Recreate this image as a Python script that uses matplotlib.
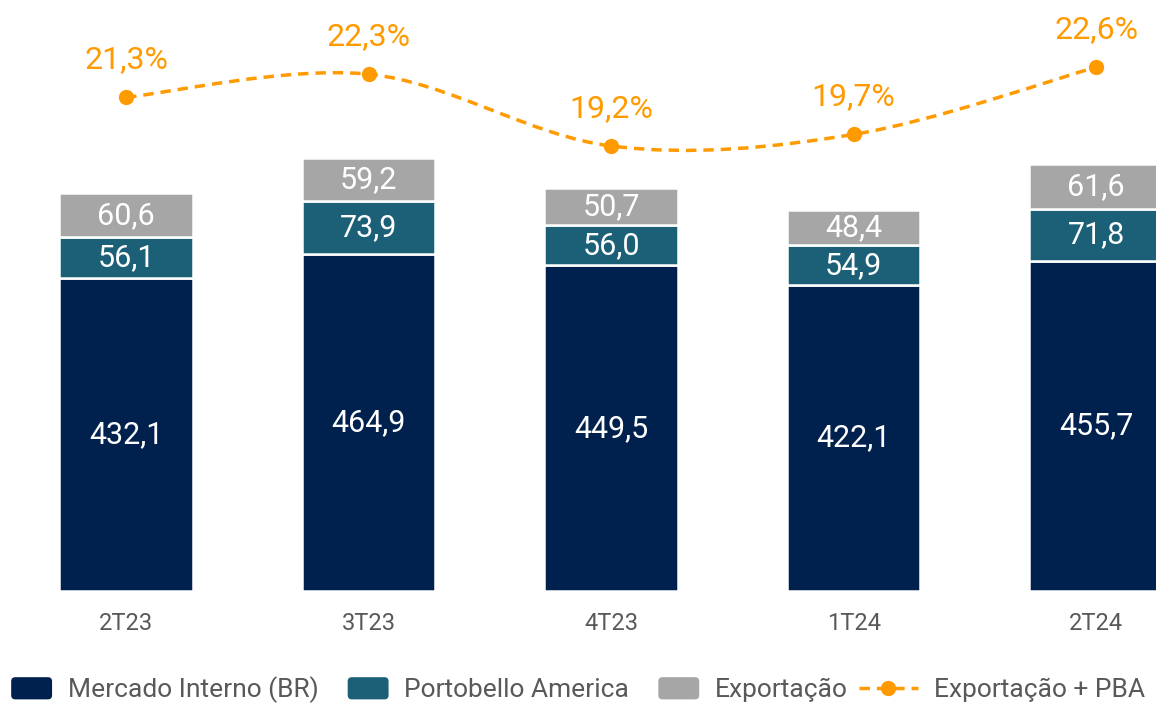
import matplotlib.pyplot as plt
import numpy as np
from matplotlib.path import Path
from matplotlib.patches import PathPatch, Patch, FancyBboxPatch
from matplotlib.lines import Line2D
from matplotlib.legend_handler import HandlerPatch, HandlerLine2D

plt.rcParams['font.family'] = ['Roboto', 'DejaVu Sans']

trimestres = ['2T23', '3T23', '4T23', '1T24', '2T24']
mercado_interno = [432.1, 464.9, 449.5, 422.1, 455.7]
portobello_america = [56.1, 73.9, 56.0, 54.9, 71.8]
exportacao = [60.6, 59.2, 50.7, 48.4, 61.6]
exp_pba = [21.3, 22.3, 19.2, 19.7, 22.6]

azul = '#00214E'
teal = '#1C6078'
cinza = '#A6A6A6'
laranja = '#FF9A00'
texto = '#595959'

def fmt(v, suf=''):
    return f'{v:.1f}'.replace('.', ',') + suf

fig = plt.figure(figsize=(11.56, 7.06), dpi=100)
ax = fig.add_axes([0, 0.163, 1, 0.837])
x = np.arange(len(trimestres))
w = 0.55

base = np.zeros(len(x))
for serie, cor in [(mercado_interno, azul), (portobello_america, teal), (exportacao, cinza)]:
    vals = np.array(serie)
    ax.bar(x, vals, w, bottom=base, color=cor, edgecolor='white', linewidth=1.8)
    for xi, b, v in zip(x, base, vals):
        ax.text(xi, b + v / 2, fmt(v), ha='center', va='center', color='white', fontsize=22)
    base = base + vals

ax.set_xlim(-0.52, 4.247)
ax.set_ylim(0, 816)
ax.set_xticks(x)
ax.set_xticklabels(trimestres, fontsize=17, color=texto)
ax.tick_params(axis='x', length=0, pad=15)
ax.set_yticks([])
for s in ax.spines.values():
    s.set_visible(False)

# linha suavizada (estilo Excel) no eixo secundario
ax2 = ax.twinx()
ax2.set_ylim(0, 25.5)
ax2.set_yticks([])
for s in ax2.spines.values():
    s.set_visible(False)

pts = np.column_stack([x, exp_pba]).astype(float)
verts = [pts[0]]
codes = [Path.MOVETO]
n = len(pts)
for i in range(n - 1):
    p0 = pts[i - 1] if i > 0 else pts[i]
    p1 = pts[i]
    p2 = pts[i + 1]
    p3 = pts[i + 2] if i + 2 < n else pts[i + 1]
    c1 = p1 + (p2 - p0) / 6
    c2 = p2 - (p3 - p1) / 6
    verts += [c1, c2, p2]
    codes += [Path.CURVE4] * 3
curva = PathPatch(Path(verts, codes), facecolor='none', edgecolor=laranja,
                  linewidth=2.5, linestyle=(0, (3, 2)))
ax2.add_patch(curva)
ax2.plot(x, exp_pba, 'o', color=laranja, markersize=10, linestyle='none')
for xi, v in zip(x, exp_pba):
    ax2.annotate(fmt(v, '%'), (xi, v), textcoords='offset points', xytext=(0, 27),
                 ha='center', va='center', color=laranja, fontsize=23)


def caixa(legend, orig_handle, xdescent, ydescent, width, height, fontsize):
    return FancyBboxPatch((-xdescent, -ydescent - height * 0.05), width, height * 1.1,
                          boxstyle='round,pad=0,rounding_size=3')


class LinhaLonga(HandlerLine2D):
    # linha da legenda um pouco mais longa, para a esquerda
    def create_artists(self, legend, orig_handle, xdescent, ydescent, width, height, fontsize, trans):
        ext = width * 0.45
        return super().create_artists(legend, orig_handle, xdescent + ext, ydescent,
                                      width + ext, height, fontsize, trans)


handles = [
    Patch(facecolor=azul, label='Mercado Interno (BR)'),
    Patch(facecolor=teal, label='Portobello America'),
    Patch(facecolor=cinza, label='Exportação'),
    Line2D([], [], color=laranja, linestyle=(0, (3, 2)), linewidth=2.5, marker='o',
           markersize=10, label='Exportação + PBA'),
]
fig.legend(handles=handles, loc='center', bbox_to_anchor=(0.5, 16 / 706), ncol=4,
           frameon=False, fontsize=19, labelcolor=texto, handlelength=1.55,
           handleheight=0.8, columnspacing=1.1, handletextpad=0.6,
           handler_map={Patch: HandlerPatch(patch_func=caixa), Line2D: LinhaLonga()})

fig.savefig('out.png', dpi=100)
